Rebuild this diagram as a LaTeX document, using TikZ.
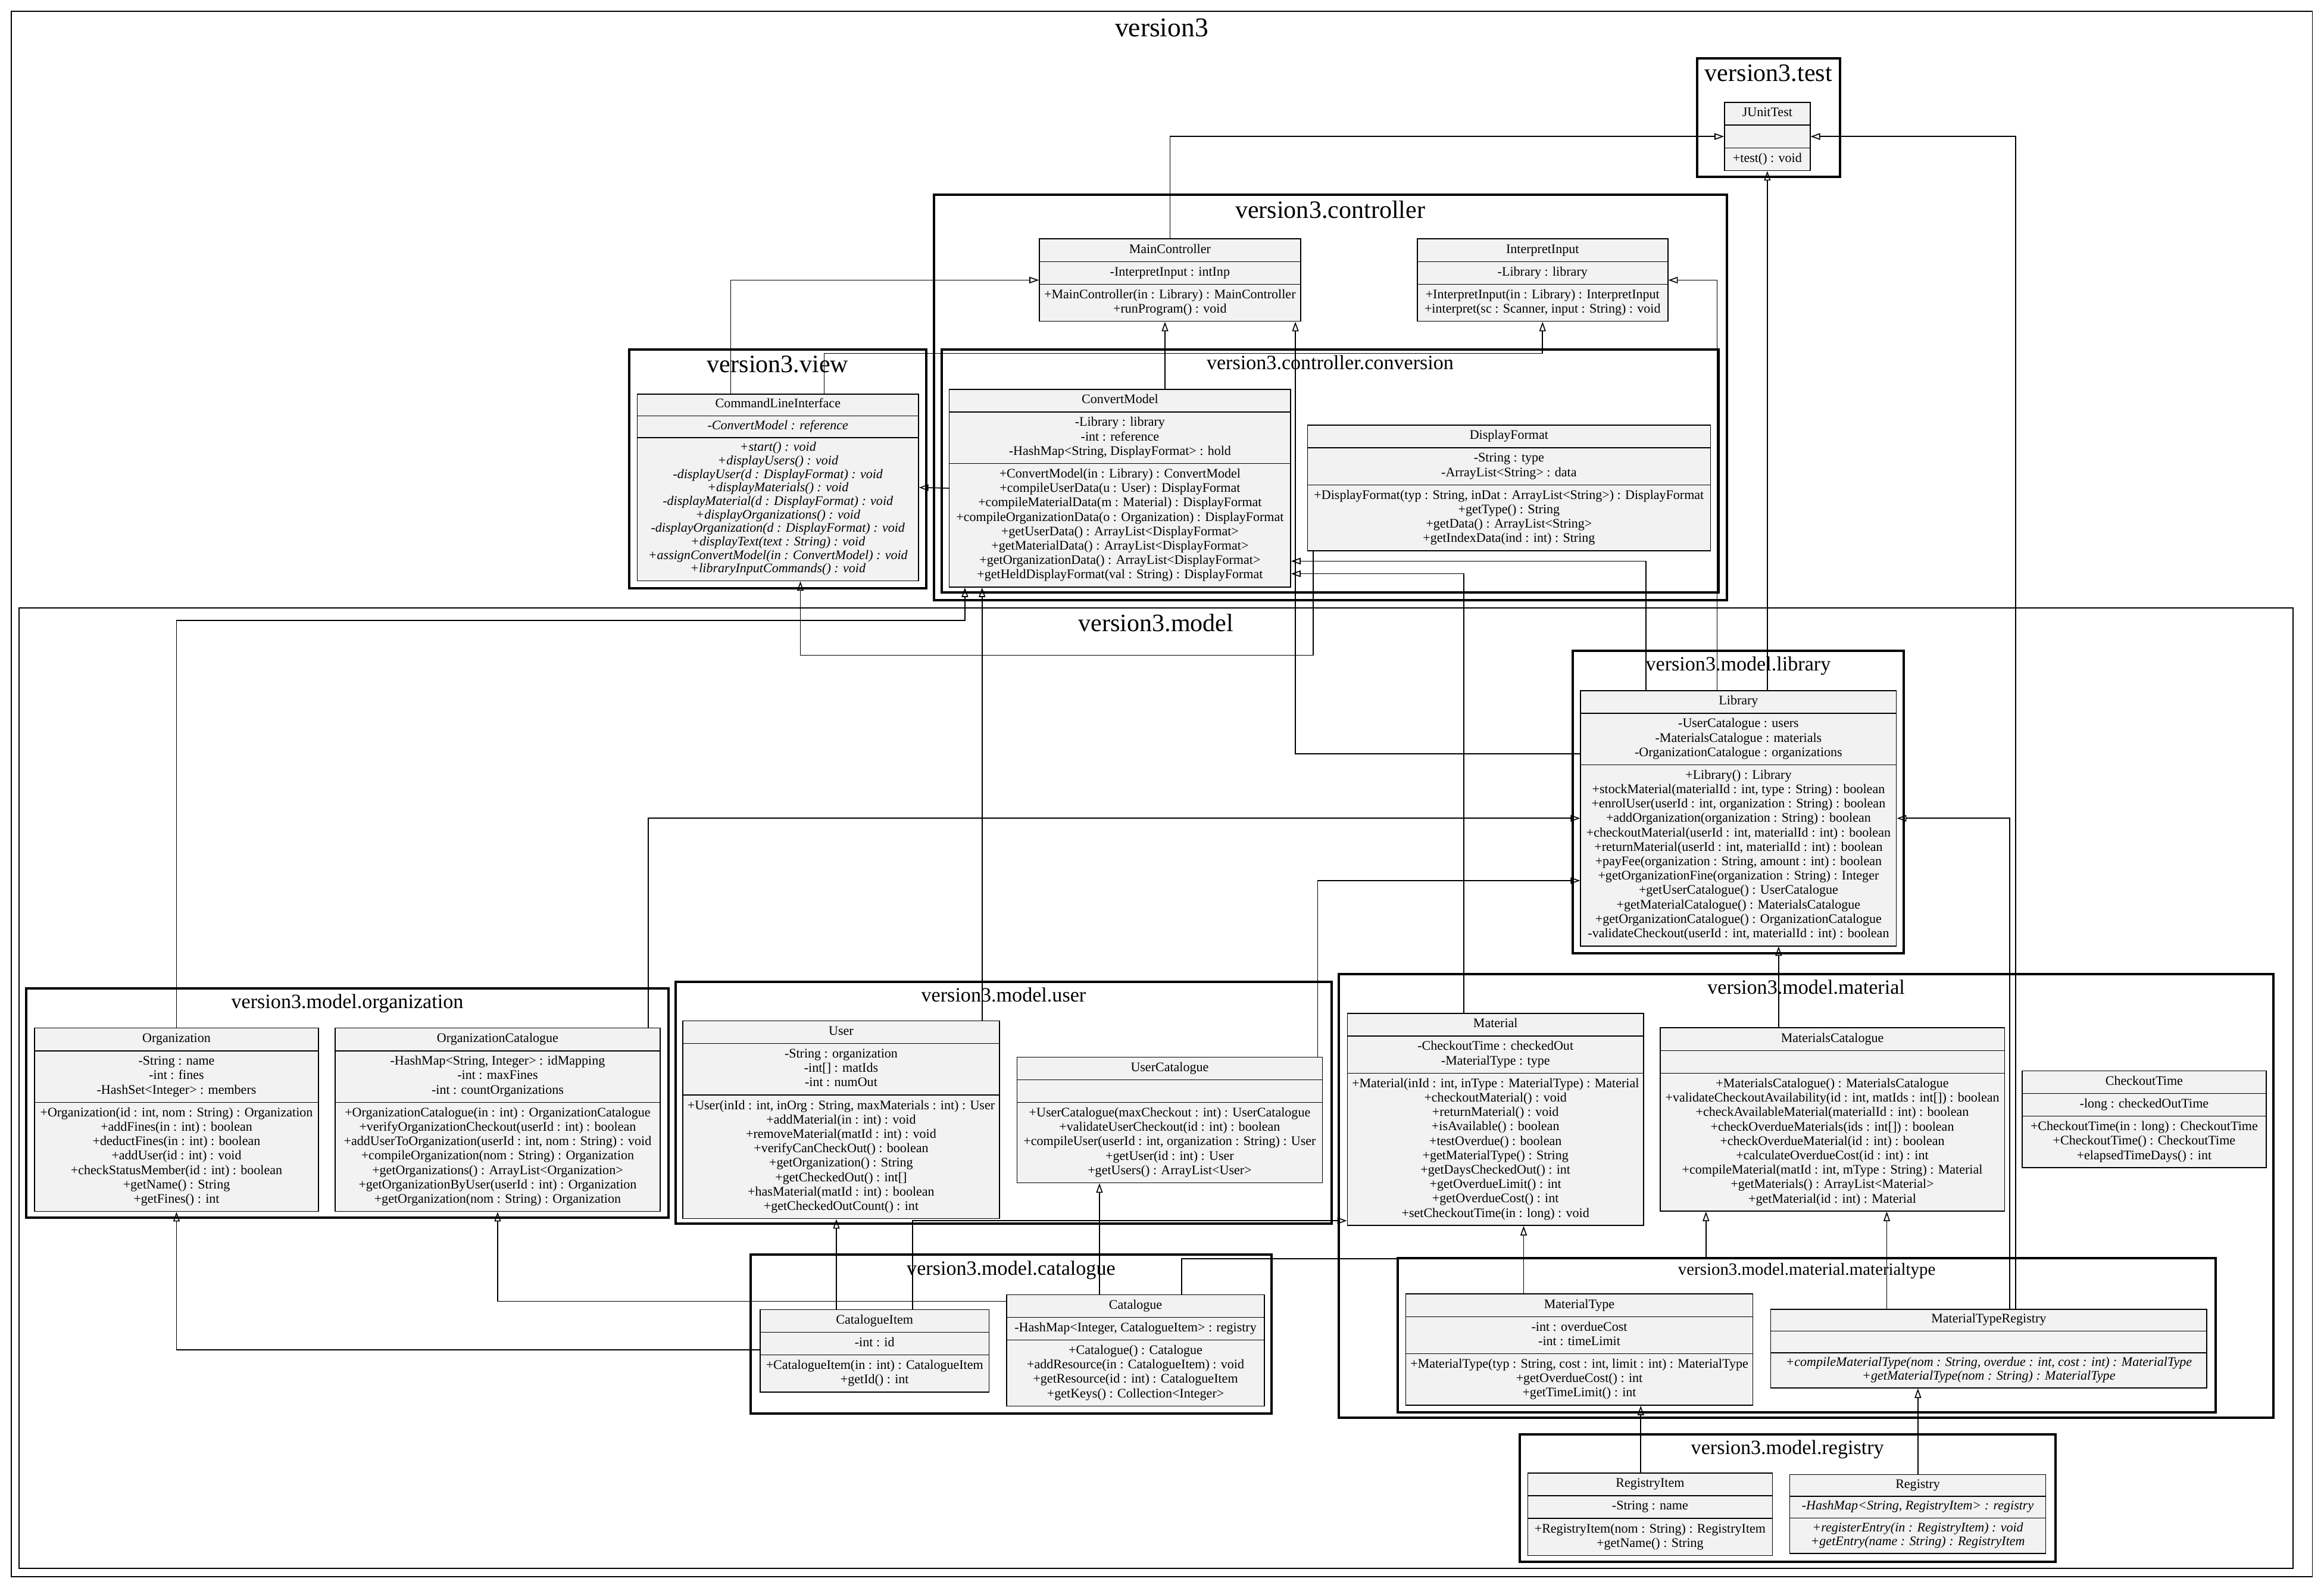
\documentclass[tikz,border=0pt]{standalone}
\usepackage{fontspec}
\setmainfont{Liberation Serif}
\usepackage{xcolor}
\usepackage{tikz}
\usetikzlibrary{positioning}
\usetikzlibrary{fit}
\usetikzlibrary{shapes.multipart}
\usetikzlibrary{arrows.meta}

\definecolor{classfill}{RGB}{242,242,242}
\newcommand{\classbody}[3]{\strut#1\strut\nodepart{second}\strut#2\strut\nodepart{third}\strut#3\strut}

\begin{document}
\begin{tikzpicture}[x=1pt, y=-1pt,
		class/.style={rectangle split, rectangle split parts=3, draw,
			line width=0.6pt, fill=classfill, anchor=north, align=center,
			inner xsep=2pt, inner ysep=2.5pt,
			font=\fontsize{8.85}{9.72}\selectfont},
		italicclass/.style={class, font=\fontsize{8.85}{9.1}\selectfont},
		package/.style={draw, line width=1.6pt, inner sep=0pt},
		bigtitle/.style={anchor=base, inner sep=0pt,
			font=\fontsize{16.9}{20}\selectfont},
		pkgtitle/.style={anchor=base, inner sep=0pt,
			font=\fontsize{13.7}{16}\selectfont},
		inherit/.style={line width=0.65pt,
			-{Triangle[open, length=6.4pt, width=4.4pt]}}]
		\useasboundingbox (0,0) rectangle (1568,1071);

		% packages
		\node [package, line width=0.5pt, fit={(7.6,7.6) (1560,1063.5)}] (pkgroot) {};
		\node [bigtitle, font=\fontsize{18.3}{22}\selectfont]
			at ([yshift=-17.2pt]pkgroot.north) {version3};
		\node [package, fit={(1145,39.3) (1241.4,119.4)}] (pkgtest) {};
		\node [bigtitle] at ([yshift=-16.5pt]pkgtest.north) {version3.test};
		\node [package, fit={(630,131.3) (1165,405)}] (pkgctrl) {};
		\node [bigtitle] at ([yshift=-16.5pt]pkgctrl.north) {version3.controller};
		\node [package, fit={(635.3,235.7) (1159.6,399.6)}] (pkgconv) {};
		\node [pkgtitle] at ([yshift=-14.3pt]pkgconv.north) {version3.controller.conversion};
		\node [package, fit={(424.5,235.7) (625,396.8)}] (pkgview) {};
		\node [bigtitle] at ([yshift=-16.5pt]pkgview.north) {version3.view};
		\node [package, line width=0.8pt, fit={(12.9,410) (1547,1058)}] (pkgmodel) {};
		\node [bigtitle] at ([yshift=-16.5pt]pkgmodel.north) {version3.model};
		\node [package, fit={(1061,439) (1284.5,643)}] (pkglib) {};
		\node [pkgtitle] at ([yshift=-14.3pt]pkglib.north) {version3.model.library};
		\node [package, fit={(17.7,666.7) (451,821.3)}] (pkgorg) {};
		\node [pkgtitle] at ([yshift=-14.3pt]pkgorg.north) {version3.model.organization};
		\node [package, fit={(455.8,662.4) (898.5,825.3)}] (pkguser) {};
		\node [pkgtitle] at ([yshift=-14.3pt]pkguser.north) {version3.model.user};
		\node [package, fit={(903.2,657) (1534,956.4)}] (pkgmat) {};
		\node [pkgtitle] at ([yshift=-14.3pt]pkgmat.north) {version3.model.material};
		\node [package, fit={(943,848.5) (1495,952.5)}] (pkgtype) {};
		\node [pkgtitle, font=\fontsize{11.6}{14}\selectfont]
			at ([yshift=-12.2pt]pkgtype.north) {version3.model.material.materialtype};
		\node [package, fit={(506.6,846.4) (857.7,953.6)}] (pkgcat) {};
		\node [pkgtitle] at ([yshift=-14.3pt]pkgcat.north) {version3.model.catalogue};
		\node [package, fit={(1025.3,967.6) (1386.7,1053.3)}] (pkgreg) {};
		\node [pkgtitle] at ([yshift=-14.3pt]pkgreg.north) {version3.model.registry};

		% classes
		\node [class, minimum width=57.8pt] (junit) at (1192.4,68.8)
			{\classbody{JUnitTest}{}{+test() : void}};
		\node [class, minimum width=176.3pt] (mainctrl) at (789.35,160.8)
			{\classbody{MainController}{-InterpretInput : intInp}
			{+MainController(in : Library) : MainController\\+runProgram() : void}};
		\node [class, minimum width=169.1pt] (interp) at (1040.75,160.8)
			{\classbody{InterpretInput}{-Library : library}
			{+InterpretInput(in : Library) : InterpretInput\\+interpret(sc : Scanner, input : String) : void}};
		\node [italicclass, minimum width=189.7pt] (cli) at (524.85,265.5)
			{\classbody{CommandLineInterface}{\textit{-ConvertModel : reference}}
			{\textit{+start() : void}\\
			\textit{+displayUsers() : void}\\
			\textit{-displayUser(d : DisplayFormat) : void}\\
			\textit{+displayMaterials() : void}\\
			\textit{-displayMaterial(d : DisplayFormat) : void}\\
			\textit{+displayOrganizations() : void}\\
			\textit{-displayOrganization(d : DisplayFormat) : void}\\
			\textit{+displayText(text : String) : void}\\
			\textit{+assignConvertModel(in : ConvertModel) : void}\\
			\textit{+libraryInputCommands() : void}}};
		\node [class, minimum width=230.3pt] (convert) at (755.65,262.3)
			{\classbody{ConvertModel}
			{-Library : library\\-int : reference\\-HashMap<String, DisplayFormat> : hold}
			{+ConvertModel(in : Library) : ConvertModel\\
			+compileUserData(u : User) : DisplayFormat\\
			+compileMaterialData(m : Material) : DisplayFormat\\
			+compileOrganizationData(o : Organization) : DisplayFormat\\
			+getUserData() : ArrayList<DisplayFormat>\\
			+getMaterialData() : ArrayList<DisplayFormat>\\
			+getOrganizationData() : ArrayList<DisplayFormat>\\
			+getHeldDisplayFormat(val : String) : DisplayFormat}};
		\node [class, minimum width=272pt] (dispfmt) at (1018.1,286.4)
			{\classbody{DisplayFormat}{-String : type\\-ArrayList<String> : data}
			{+DisplayFormat(typ : String, inDat : ArrayList<String>) : DisplayFormat\\
			+getType() : String\\
			+getData() : ArrayList<String>\\
			+getIndexData(ind : int) : String}};
		\node [class, minimum width=213.1pt] (library) at (1172.95,465.5)
			{\classbody{Library}
			{-UserCatalogue : users\\-MaterialsCatalogue : materials\\-OrganizationCatalogue : organizations}
			{+Library() : Library\\
			+stockMaterial(materialId : int, type : String) : boolean\\
			+enrolUser(userId : int, organization : String) : boolean\\
			+addOrganization(organization : String) : boolean\\
			+checkoutMaterial(userId : int, materialId : int) : boolean\\
			+returnMaterial(userId : int, materialId : int) : boolean\\
			+payFee(organization : String, amount : int) : boolean\\
			+getOrganizationFine(organization : String) : Integer\\
			+getUserCatalogue() : UserCatalogue\\
			+getMaterialCatalogue() : MaterialsCatalogue\\
			+getOrganizationCatalogue() : OrganizationCatalogue\\
			-validateCheckout(userId : int, materialId : int) : boolean}};
		\node [class, minimum width=191.6pt] (org) at (119.1,693.2)
			{\classbody{Organization}
			{-String : name\\-int : fines\\-HashSet<Integer> : members}
			{+Organization(id : int, nom : String) : Organization\\
			+addFines(in : int) : boolean\\
			+deductFines(in : int) : boolean\\
			+addUser(id : int) : void\\
			+checkStatusMember(id : int) : boolean\\
			+getName() : String\\
			+getFines() : int}};
		\node [class, minimum width=219.3pt] (orgcat) at (335.75,693.2)
			{\classbody{OrganizationCatalogue}
			{-HashMap<String, Integer> : idMapping\\-int : maxFines\\-int : countOrganizations}
			{+OrganizationCatalogue(in : int) : OrganizationCatalogue\\
			+verifyOrganizationCheckout(userId : int) : boolean\\
			+addUserToOrganization(userId : int, nom : String) : void\\
			+compileOrganization(nom : String) : Organization\\
			+getOrganizations() : ArrayList<Organization>\\
			+getOrganizationByUser(userId : int) : Organization\\
			+getOrganization(nom : String) : Organization}};
		\node [class, minimum width=213.6pt] (user) at (567.5,688.3)
			{\classbody{User}
			{-String : organization\\-int[] : matIds\\-int : numOut}
			{+User(inId : int, inOrg : String, maxMaterials : int) : User\\
			+addMaterial(in : int) : void\\
			+removeMaterial(matId : int) : void\\
			+verifyCanCheckOut() : boolean\\
			+getOrganization() : String\\
			+getCheckedOut() : int[]\\
			+hasMaterial(matId : int) : boolean\\
			+getCheckedOutCount() : int}};
		\node [class, minimum width=206.2pt] (usercat) at (789.2,712.7)
			{\classbody{UserCatalogue}{}
			{+UserCatalogue(maxCheckout : int) : UserCatalogue\\
			+validateUserCheckout(id : int) : boolean\\
			+compileUser(userId : int, organization : String) : User\\
			+getUser(id : int) : User\\
			+getUsers() : ArrayList<User>}};
		\node [class, minimum width=200pt] (material) at (1009,683.2)
			{\classbody{Material}
			{-CheckoutTime : checkedOut\\-MaterialType : type}
			{+Material(inId : int, inType : MaterialType) : Material\\
			+checkoutMaterial() : void\\
			+returnMaterial() : void\\
			+isAvailable() : boolean\\
			+testOverdue() : boolean\\
			+getMaterialType() : String\\
			+getDaysCheckedOut() : int\\
			+getOverdueLimit() : int\\
			+getOverdueCost() : int\\
			+setCheckoutTime(in : long) : void}};
		\node [class, minimum width=232.3pt] (matcat) at (1236.25,693)
			{\classbody{MaterialsCatalogue}{}
			{+MaterialsCatalogue() : MaterialsCatalogue\\
			+validateCheckoutAvailability(id : int, matIds : int[]) : boolean\\
			+checkAvailableMaterial(materialId : int) : boolean\\
			+checkOverdueMaterials(ids : int[]) : boolean\\
			+checkOverdueMaterial(id : int) : boolean\\
			+calculateOverdueCost(id : int) : int\\
			+compileMaterial(matId : int, mType : String) : Material\\
			+getMaterials() : ArrayList<Material>\\
			+getMaterial(id : int) : Material}};
		\node [class, minimum width=164.7pt] (checkout) at (1446.65,722)
			{\classbody{CheckoutTime}{-long : checkedOutTime}
			{+CheckoutTime(in : long) : CheckoutTime\\
			+CheckoutTime() : CheckoutTime\\
			+elapsedTimeDays() : int}};
		\node [class, minimum width=234.3pt] (mattype) at (1065.55,872.5)
			{\classbody{MaterialType}{-int : overdueCost\\-int : timeLimit}
			{+MaterialType(typ : String, cost : int, limit : int) : MaterialType\\
			+getOverdueCost() : int\\
			+getTimeLimit() : int}};
		\node [italicclass, minimum width=294.2pt] (mtreg) at (1341.8,882.8)
			{\classbody{MaterialTypeRegistry}{}
			{\textit{+compileMaterialType(nom : String, overdue : int, cost : int) : MaterialType}\\
			\textit{+getMaterialType(nom : String) : MaterialType}}};
		\node [class, minimum width=154.6pt] (catitem) at (590.1,883)
			{\classbody{CatalogueItem}{-int : id}
			{+CatalogueItem(in : int) : CatalogueItem\\+getId() : int}};
		\node [class, minimum width=173.9pt] (catalogue) at (766.15,873)
			{\classbody{Catalogue}{-HashMap<Integer, CatalogueItem> : registry}
			{+Catalogue() : Catalogue\\
			+addResource(in : CatalogueItem) : void\\
			+getResource(id : int) : CatalogueItem\\
			+getKeys() : Collection<Integer>}};
		\node [class, minimum width=165.2pt] (regitem) at (1113.3,993.3)
			{\classbody{RegistryItem}{-String : name}
			{+RegistryItem(nom : String) : RegistryItem\\+getName() : String}};
		\node [italicclass, minimum width=172.6pt] (registry) at (1293.9,994.3)
			{\classbody{Registry}{\textit{-HashMap<String, RegistryItem> : registry}}
			{\textit{+registerEntry(in : RegistryItem) : void}\\
			\textit{+getEntry(name : String) : RegistryItem}}};

		% connectors
		\draw [inherit] (mainctrl.north) |- (junit.west);
		\draw [inherit] (1360,0 |- mtreg.north) |- (junit.east);
		\draw [inherit] (junit.south |- library.north) -- (junit.south);
		\draw [inherit] (1158.5,0 |- library.north) |- (interp.east);
		\draw [inherit] (1110.5,0 |- library.north) |- (convert.east |- 0,378.5);
		\draw [inherit] (987.5,0 |- material.north) |- (convert.east |- 0,387);
		\draw [inherit] (886,0 |- dispfmt.south) |- (540,442) -- (540,0 |- cli.south);
		\draw [inherit] (493,0 |- cli.north) |- (mainctrl.west);
		\draw [inherit] (556,0 |- cli.north) |- (interp.south |- 0,238.4) -- (interp.south);
		\draw [inherit] (786,0 |- convert.north) -- (786,0 |- mainctrl.south);
		\draw [inherit] (library.west |- 0,508.5) -| (874,0 |- mainctrl.south);
		\draw [inherit] (convert.west) -- (cli.east);
		\draw [inherit] (662.6,0 |- user.north) -- (662.6,0 |- convert.south);
		\draw [inherit] (org.north) |- (651,418.5) -- (651,0 |- convert.south);
		\draw [inherit] (437.5,0 |- orgcat.north) |- (library.west);
		\draw [inherit] (889,0 |- usercat.north) |- (library.west |- 0,594);
		\draw [inherit] (1356,0 |- mtreg.north) |- (library.east);
		\draw [inherit] (1200,0 |- matcat.north) -- (1200,0 |- library.south);
		\draw [inherit] (1028,0 |- mattype.north) -- (1028,0 |- material.south);
		\draw [inherit] (797.2,0 |- catalogue.north) |- (1151,849) -- (1151,0 |- matcat.south);
		\draw [inherit] (1273,0 |- mtreg.north) -- (1273,0 |- matcat.south);
		\draw [inherit] (564.3,0 |- catitem.north) -- (564.3,0 |- user.south);
		\draw [inherit] (615.8,0 |- catitem.north) |- (material.west |- 0,823.4);
		\draw [inherit] (741.8,0 |- catalogue.north) -- (741.8,0 |- usercat.south);
		\draw [inherit] (catalogue.west |- 0,877.8) -| (orgcat.south);
		\draw [inherit] (catitem.west |- 0,910.6) -| (org.south);
		\draw [inherit] (1107,0 |- regitem.north) -- (1107,0 |- mattype.south);
		\draw [inherit] (1294,0 |- registry.north) -- (1294,0 |- mtreg.south);
\end{tikzpicture}
\end{document}
